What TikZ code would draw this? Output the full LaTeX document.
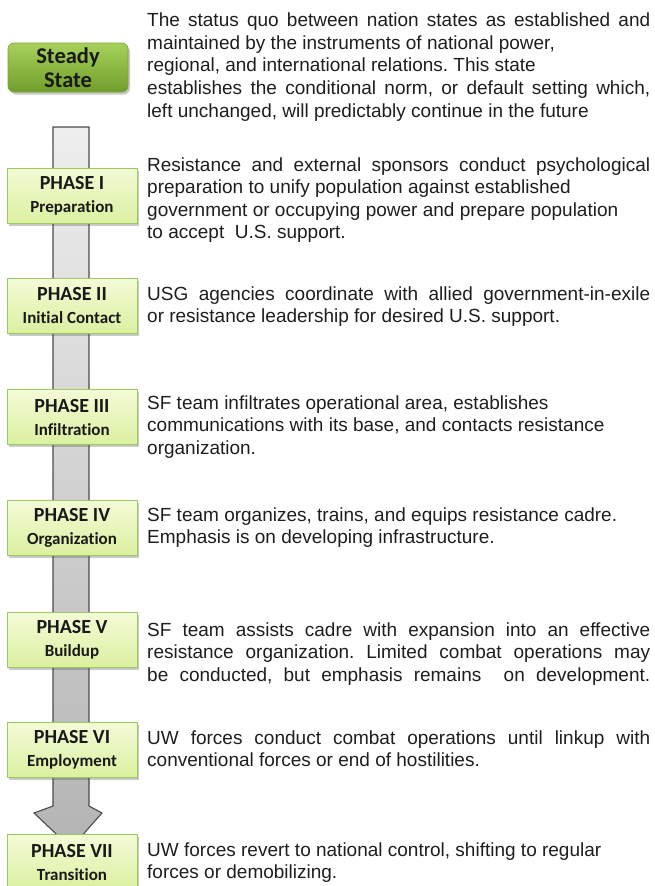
\documentclass[tikz,border=0pt]{standalone}
\usepackage{fontspec}
\setmainfont{Liberation Sans}
\newfontfamily\calfont[Ligatures=NoCommon]{Carlito}
\usetikzlibrary{shadows}
\frenchspacing
\definecolor{boxtop}{RGB}{243,251,214}
\definecolor{boxbot}{RGB}{219,240,160}
\definecolor{boxline}{RGB}{155,200,95}
\definecolor{sstop}{RGB}{168,208,92}
\definecolor{ssbot}{RGB}{112,158,42}
\definecolor{ssline}{RGB}{120,165,50}
\definecolor{arrtop}{RGB}{238,238,238}
\definecolor{arrbot}{RGB}{180,180,180}
\definecolor{arrline}{RGB}{75,75,75}
\definecolor{txtcol}{RGB}{30,30,30}
\newcommand\fl[1]{\hbox to 503pt{#1}}
\newcommand\rl[1]{\hbox{#1}}
\newcommand\blk[1]{\vtop{\hsize=503pt\baselineskip=22.5pt\lineskiplimit=-20pt #1}}
\tikzset{
  phasebox/.style={draw=boxline, line width=0.8pt, top color=boxtop, bottom color=boxbot,
    minimum width=130pt, minimum height=55pt, inner sep=0pt, align=center,
    text=black!90, font=\calfont\bfseries\fontsize{20}{23}\selectfont,
    drop shadow={shadow xshift=2pt, shadow yshift=-2.5pt, opacity=0.3, fill=black!70}},
  ssbox/.style={draw=ssline, line width=0.6pt, top color=sstop, bottom color=ssbot,
    rounded corners=6pt, minimum width=120pt, minimum height=49pt, inner sep=0pt, align=center,
    text=black!90, font=\calfont\bfseries\fontsize{22.5}{24.5}\selectfont,
    drop shadow={shadow xshift=2pt, shadow yshift=-2.5pt, opacity=0.3, fill=black!70}},
  desc/.style={anchor=base west, inner sep=0pt, text=txtcol, font=\fontsize{19}{22.5}\selectfont}
}
\newcommand\subt[1]{\fontsize{17}{23}\selectfont #1}
\begin{document}
\begin{tikzpicture}[x=1pt,y=-1pt]
\useasboundingbox (0,0) rectangle (654,886);
% arrow
\coordinate (a1) at (53,127);
\coordinate (a2) at (89,127);
\coordinate (a3) at (89,806);
\coordinate (a4) at (102,813);
\coordinate (a5) at (71,848);
\coordinate (a6) at (34,813);
\coordinate (a7) at (53,806);
\draw[arrline, line width=1.1pt, top color=arrtop, bottom color=arrbot, line join=miter]
  (a1) -- (a2) -- (a3) -- (a4) -- (a5) -- (a6) -- (a7) -- cycle;
% boxes
\node[ssbox] (s0) at (68,67.5) {Steady\\State};
\node[phasebox] (p1) at (72,195.5) {PHASE I\\\subt{Preparation}};
\node[phasebox] (p2) at (72,306) {PHASE II\\\subt{Initial Contact}};
\node[phasebox] (p3) at (72,417) {PHASE III\\\subt{Infiltration}};
\node[phasebox] (p4) at (72,528) {PHASE IV\\\subt{Organization}};
\node[phasebox] (p5) at (72,640) {PHASE V\\\subt{Buildup}};
\node[phasebox] (p6) at (72,750) {PHASE VI\\\subt{Employment}};
\node[phasebox] (p7) at (72,862) {PHASE VII\\\subt{Transition}};
% descriptions
\node[desc] (t0) at (147,27) {\blk{%
\fl{The status quo between nation states as established and}
\rl{maintained by the instruments of national power,}
\rl{regional, and international relations. This state}
\fl{establishes the conditional norm, or default setting which,}
\rl{left unchanged, will predictably continue in the future}}};
\node[desc] (t1) at (147,171) {\blk{%
\fl{Resistance and external sponsors conduct psychological}
\rl{preparation to unify population against established}
\rl{government or occupying power and prepare population}
\rl{to accept\ \ U.S. support.}}};
\node[desc] (t2) at (147,300) {\blk{%
\fl{USG agencies coordinate with allied government-in-exile}
\rl{or resistance leadership for desired U.S. support.}}};
\node[desc] (t3) at (147,409) {\blk{%
\rl{SF team infiltrates operational area, establishes}
\rl{communications with its base, and contacts resistance}
\rl{organization.}}};
\node[desc] (t4) at (147,521) {\blk{%
\rl{SF team organizes, trains, and equips resistance cadre.}
\rl{Emphasis is on developing infrastructure.}}};
\node[desc] (t5) at (147,636) {\blk{%
\fl{SF team assists cadre with expansion into an effective}
\fl{resistance organization. Limited combat operations may}
\fl{be conducted, but emphasis remains\ \ on development.}}};
\node[desc] (t6) at (147,744) {\blk{%
\fl{UW forces conduct combat operations until linkup with}
\rl{conventional forces or end of hostilities.}}};
\node[desc] (t7) at (147,856) {\blk{%
\rl{UW forces revert to national control, shifting to regular}
\rl{forces or demobilizing.}}};
\end{tikzpicture}
\end{document}
